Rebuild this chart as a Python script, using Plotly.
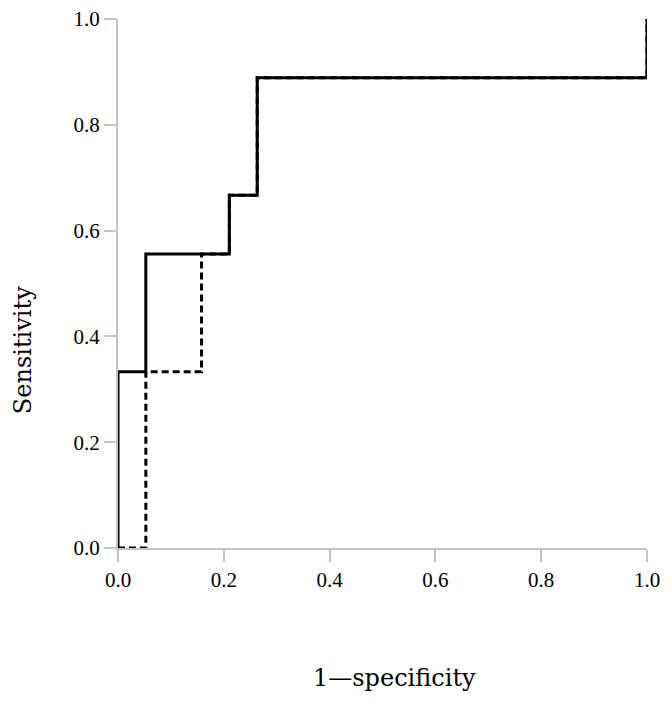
import plotly.graph_objects as go

# ROC step points (1-specificity, sensitivity)
solid_fpr = [0.0, 0.0, 0.0526, 0.0526, 0.2105, 0.2105, 0.2632, 0.2632, 1.0, 1.0]
solid_tpr = [0.0, 0.3333, 0.3333, 0.5556, 0.5556, 0.6667, 0.6667, 0.8889, 0.8889, 1.0]

dashed_fpr = [0.0, 0.0526, 0.0526, 0.1579, 0.1579, 0.2105, 0.2105, 0.2632, 0.2632, 1.0, 1.0]
dashed_tpr = [0.0, 0.0, 0.3333, 0.3333, 0.5556, 0.5556, 0.6667, 0.6667, 0.8889, 0.8889, 1.0]

tick_vals = [0.0, 0.2, 0.4, 0.6, 0.8, 1.0]
tick_text = ["0.0", "0.2", "0.4", "0.6", "0.8", "1.0"]
x_title = "1\u2014specificity"
y_title = "Sensitivity"

fig = go.Figure()
fig.add_trace(go.Scatter(x=dashed_fpr, y=dashed_tpr, mode="lines",
                         line=dict(color="black", width=3, dash="7px,4px"),
                         cliponaxis=False, showlegend=False, hoverinfo="skip"))
fig.add_trace(go.Scatter(x=solid_fpr, y=solid_tpr, mode="lines",
                         line=dict(color="black", width=3),
                         cliponaxis=False, showlegend=False, hoverinfo="skip"))

tick_font = "Liberation Serif, DejaVu Serif, serif"
title_font = "DejaVu Serif, Liberation Serif, serif"
axis_common = dict(range=[0, 1], showgrid=False, zeroline=False, showline=True,
                   automargin=False, ticklabeloverflow="allow",
                   linecolor="#c4c4c4", linewidth=2, ticks="outside", ticklen=12,
                   tickcolor="#c4c4c4", tickwidth=2, tickvals=tick_vals, ticktext=tick_text,
                   tickfont=dict(family=tick_font, size=21, color="black"))

fig.update_layout(
    width=670, height=702,
    margin=dict(l=118, r=23, t=19, b=154),
    plot_bgcolor="white", paper_bgcolor="white",
    xaxis=dict(**axis_common),
    yaxis=dict(**axis_common),
)

fig.add_annotation(text=x_title, xref="paper", yref="paper",
                   x=0.5236, y=-0.2457, xanchor="center", yanchor="middle",
                   showarrow=False, font=dict(family=title_font, size=24, color="black"))
fig.add_annotation(text=y_title, xref="paper", yref="paper", textangle=-90,
                   x=-0.1796, y=0.374, xanchor="center", yanchor="middle",
                   showarrow=False, font=dict(family=title_font, size=24, color="black"))

fig.write_html("out.html", config={"displayModeBar": False},
               post_script="document.body.style.margin='0px';")
